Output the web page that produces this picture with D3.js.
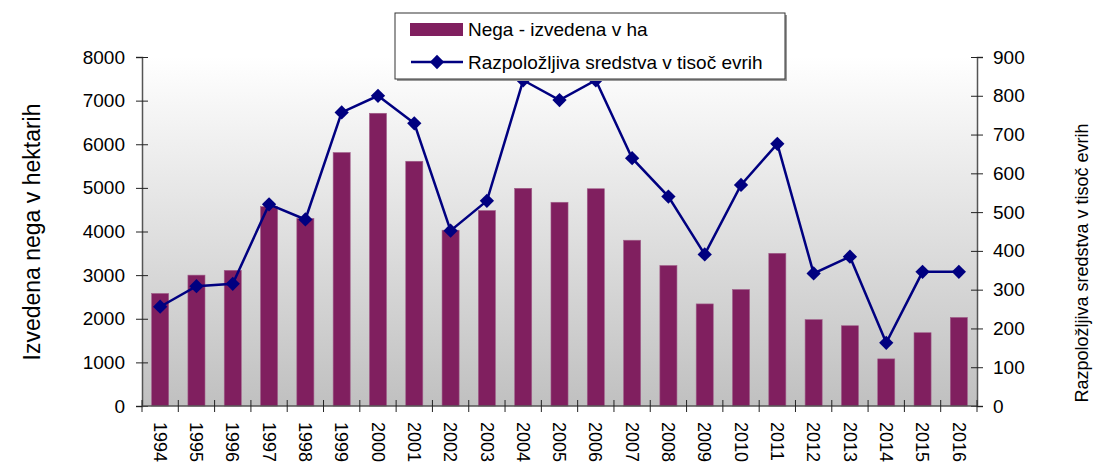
<!DOCTYPE html>
<html>
<head>
<meta charset="utf-8">
<script src="https://cdn.jsdelivr.net/npm/d3@7"></script>
<style>
  body { margin: 0; background: #fff; }
  text { font-family: "Liberation Sans", Arial, sans-serif; fill: #000; }
</style>
</head>
<body>
<svg id="chart" width="1093" height="462"></svg>
<script>
// data
var years = ["1994","1995","1996","1997","1998","1999","2000","2001","2002","2003","2004","2005",
             "2006","2007","2008","2009","2010","2011","2012","2013","2014","2015","2016"];
var negaHa = [2580, 3000, 3110, 4570, 4300, 5810, 6710, 5610, 4030, 4480, 4990, 4670,
              4980, 3800, 3220, 2340, 2670, 3500, 1980, 1840, 1080, 1680, 2030];
var sredstva = [256, 309, 315, 520, 481, 757, 800, 729, 452, 529, 840, 789,
                840, 639, 540, 391, 570, 676, 342, 385, 163, 346, 346];
var leftTicks = [0, 1000, 2000, 3000, 4000, 5000, 6000, 7000, 8000];
var rightTicks = [0, 100, 200, 300, 400, 500, 600, 700, 800, 900];

var svg = d3.select("#chart");
var pLeft = 142, pRight = 977, pTop = 57, pBottom = 406;

var x = d3.scaleBand().domain(years).range([pLeft, pRight]).paddingInner(0).paddingOuter(0);
var yL = d3.scaleLinear().domain([0, 8000]).range([pBottom, pTop]);
var yR = d3.scaleLinear().domain([0, 900]).range([pBottom, pTop]);

// plot background gradient
var defs = svg.append("defs");
var grad = defs.append("linearGradient").attr("id", "bg")
    .attr("x1", 0).attr("y1", 0).attr("x2", 0).attr("y2", 1);
grad.append("stop").attr("offset", "0%").attr("stop-color", "#ffffff");
grad.append("stop").attr("offset", "100%").attr("stop-color", "#c0c0c0");

svg.append("rect")
    .attr("x", pLeft).attr("y", pTop)
    .attr("width", pRight - pLeft).attr("height", pBottom - pTop)
    .attr("fill", "url(#bg)");

// bars
var barW = x.bandwidth() * 0.47;
svg.append("g").selectAll("rect")
    .data(negaHa)
    .join("rect")
    .attr("x", function(d, i) { return x(years[i]) + (x.bandwidth() - barW) / 2; })
    .attr("y", function(d) { return yL(d); })
    .attr("width", barW)
    .attr("height", function(d) { return pBottom - yL(d); })
    .attr("fill", "#801f5f")
    .attr("stroke", "#a0608a")
    .attr("stroke-width", 0.6);

// axes
var axisColor = "#555";
var gL = svg.append("g").attr("transform", "translate(" + pLeft + ",0)")
    .call(d3.axisLeft(yL).tickValues(leftTicks).tickSize(6).tickPadding(12).tickFormat(d3.format("d")));
var gR = svg.append("g").attr("transform", "translate(" + pRight + ",0)")
    .call(d3.axisRight(yR).tickValues(rightTicks).tickSize(6).tickPadding(12).tickFormat(d3.format("d")));
[gL, gR].forEach(function(g) {
  g.select(".domain").attr("stroke", axisColor).attr("stroke-width", 1.5);
  g.selectAll(".tick line").attr("stroke", "#222").attr("x1", -6).attr("x2", 6);
  g.selectAll(".tick text").attr("font-size", 19).attr("font-family", "Liberation Sans, Arial, sans-serif");
});
gL.selectAll(".tick text").attr("x", -17);
gR.selectAll(".tick text").attr("x", 16);

// category axis: ticks on band boundaries
var gX = svg.append("g").attr("transform", "translate(0," + pBottom + ")");
gX.append("line").attr("x1", pLeft).attr("x2", pRight).attr("stroke", axisColor).attr("stroke-width", 1.5);
var edges = years.map(function(d) { return x(d); }).concat([pRight]);
gX.selectAll("line.t").data(edges).join("line").attr("class", "t")
    .attr("x1", function(d) { return d; }).attr("x2", function(d) { return d; })
    .attr("y1", -6).attr("y2", 6).attr("stroke", "#222");
gX.selectAll("text").data(years).join("text")
    .attr("transform", function(d) {
      return "translate(" + (x(d) + x.bandwidth() / 2) + ",16) rotate(90)";
    })
    .attr("dy", "0.35em")
    .attr("font-size", 18)
    .text(function(d) { return d; });

// line series
var line = d3.line()
    .x(function(d, i) { return x(years[i]) + x.bandwidth() / 2; })
    .y(function(d) { return yR(d); });
svg.append("path").datum(sredstva)
    .attr("d", line)
    .attr("fill", "none")
    .attr("stroke", "#000080")
    .attr("stroke-width", 2.5);
var diamond = d3.symbol().type(d3.symbolDiamond2).size(130);
svg.append("g").selectAll("path")
    .data(sredstva)
    .join("path")
    .attr("transform", function(d, i) {
      return "translate(" + (x(years[i]) + x.bandwidth() / 2) + "," + yR(d) + ")";
    })
    .attr("d", diamond)
    .attr("fill", "#000080");

// axis titles
svg.append("text")
    .attr("transform", "translate(40,232) rotate(-90)")
    .attr("text-anchor", "middle")
    .attr("font-size", 23)
    .text("Izvedena nega v hektarih");
svg.append("text")
    .attr("transform", "translate(1088,263) rotate(-90)")
    .attr("text-anchor", "middle")
    .attr("font-size", 18)
    .text("Razpoložljiva sredstva v tisoč evrih");

// legend
var lg = svg.append("g");
lg.append("rect").attr("x", 397).attr("y", 15).attr("width", 390).attr("height", 66).attr("fill", "#999");
lg.append("rect").attr("x", 395).attr("y", 13).attr("width", 390).attr("height", 66)
    .attr("fill", "#fff").attr("stroke", "#333").attr("stroke-width", 1);
lg.append("rect").attr("x", 410).attr("y", 23).attr("width", 53).attr("height", 13).attr("fill", "#801f5f");
lg.append("text").attr("x", 468).attr("y", 36).attr("font-size", 19).text("Nega - izvedena v ha");
lg.append("line").attr("x1", 411).attr("x2", 463).attr("y1", 62).attr("y2", 62)
    .attr("stroke", "#000080").attr("stroke-width", 2.5);
lg.append("path").attr("transform", "translate(437,62)").attr("d", diamond).attr("fill", "#000080");
lg.append("text").attr("x", 468).attr("y", 69).attr("font-size", 19).text("Razpoložljiva sredstva v tisoč evrih");
</script>
</body>
</html>
